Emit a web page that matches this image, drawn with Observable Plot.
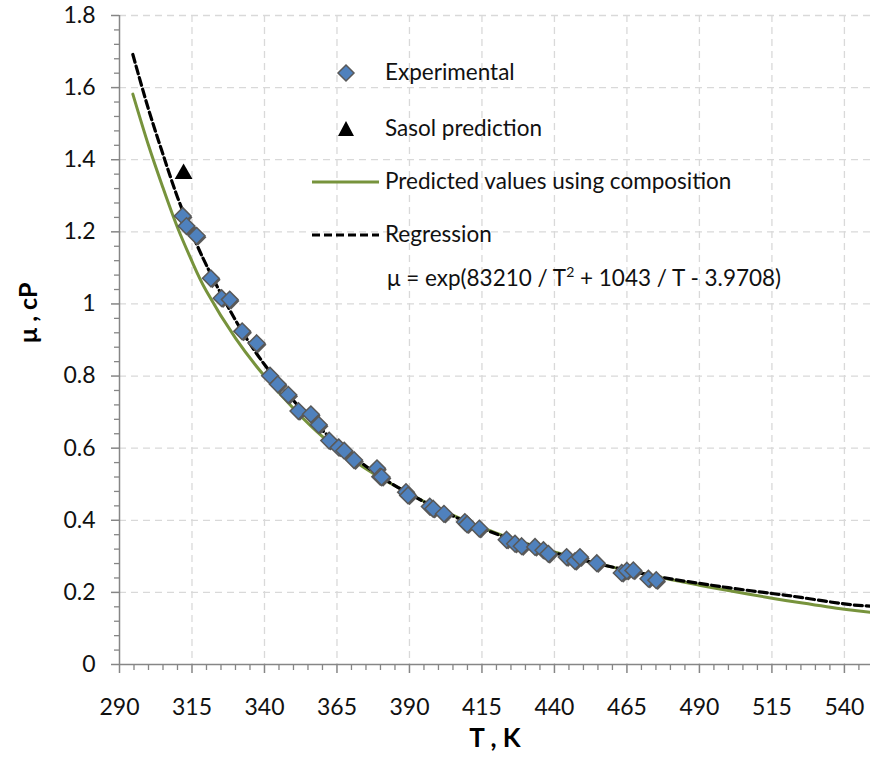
<!DOCTYPE html>
<html>
<head>
<meta charset="utf-8">
<script src="https://cdn.jsdelivr.net/npm/d3@7"></script>
<script src="https://cdn.jsdelivr.net/npm/@observablehq/plot@0.6"></script>
<style>
  html, body { margin: 0; padding: 0; background: white; }
  #wrap { position: relative; width: 870px; height: 761px; font-family: Lato, "Open Sans", sans-serif; }
  #legend { position: absolute; left: 0; top: 0; pointer-events: none; }
</style>
</head>
<body>
<div id="wrap">
  <div id="chart"></div>
  <svg id="legend" width="870" height="761" font-family="Lato, 'Open Sans', sans-serif" font-size="22.5" fill="#111">
    <polygon points="346,65 354,73 346,81 338,73" fill="#4F81BD" stroke="#595959" stroke-width="1.5"/>
    <text x="385" y="74" dominant-baseline="middle">Experimental</text>
    <polygon points="346,121 354,136 338,136" fill="black"/>
    <text x="385" y="130" dominant-baseline="middle">Sasol prediction</text>
    <line x1="312" x2="379" y1="182" y2="182" stroke="#77933C" stroke-width="3"/>
    <text x="385" y="183" dominant-baseline="middle">Predicted values using composition</text>
    <line x1="312" x2="379" y1="235" y2="235" stroke="black" stroke-width="3.2" stroke-dasharray="8,4"/>
    <text x="385" y="236" dominant-baseline="middle">Regression</text>
    <text x="387" y="280" dominant-baseline="middle">μ = exp(83210 / T<tspan dy="-7" font-size="14">2</tspan><tspan dy="7"> + 1043 / T - 3.9708)</tspan></text>
  </svg>
</div>
<script>
// Experimental data (T in K, viscosity in cP)
const expT  = [311.8, 313.1, 316.6, 321.5, 325.2, 328.0, 332.3, 337.3, 341.9, 344.6, 348.2, 351.7, 356.0, 358.7, 362.3, 365.6, 367.5, 370.9, 378.8, 379.9, 380.4, 388.8, 389.5, 397.0, 398.2, 401.9, 409.1, 409.9, 414.1, 423.5, 426.4, 428.7, 433.3, 436.2, 437.9, 444.2, 447.1, 448.8, 454.6, 463.2, 465.0, 467.2, 472.4, 475.1];
const expMu = [1.244, 1.216, 1.189, 1.071, 1.016, 1.012, 0.924, 0.891, 0.801, 0.777, 0.748, 0.703, 0.694, 0.665, 0.621, 0.602, 0.593, 0.567, 0.544, 0.521, 0.520, 0.478, 0.469, 0.438, 0.432, 0.418, 0.395, 0.389, 0.377, 0.346, 0.335, 0.328, 0.326, 0.317, 0.307, 0.298, 0.287, 0.298, 0.281, 0.254, 0.260, 0.261, 0.238, 0.234];

// Sasol prediction
const sasolT  = [312.1];
const sasolMu = [1.361];

// Predicted values using composition (green line)
const predT  = [294.6, 300, 305, 310, 315, 320, 330, 340, 350, 360, 370, 380, 390, 400, 420, 440, 460, 480, 490, 500, 515, 525, 540, 549];
const predMu = [1.582, 1.440, 1.322, 1.212, 1.118, 1.035, 0.905, 0.800, 0.710, 0.632, 0.570, 0.518, 0.474, 0.432, 0.364, 0.312, 0.270, 0.236, 0.220, 0.205, 0.184, 0.171, 0.153, 0.145];

// Regression (dashed line)
const regT  = [294.6, 300, 305, 310, 315, 320, 330, 340, 350, 360, 375, 390, 410, 430, 450, 475, 490, 500, 515, 525, 540, 549];
const regMu = [1.692, 1.540, 1.415, 1.296, 1.196, 1.107, 0.955, 0.832, 0.732, 0.649, 0.550, 0.473, 0.394, 0.334, 0.289, 0.245, 0.225, 0.213, 0.197, 0.186, 0.168, 0.162];

// Tick values
const xMajor = [290, 315, 340, 365, 390, 415, 440, 465, 490, 515, 540];
const xMinor = d3.range(290, 550, 5).filter(v => (v - 290) % 25 !== 0);
const yMajor = [0, 0.2, 0.4, 0.6, 0.8, 1, 1.2, 1.4, 1.6, 1.8];
const yMinor = d3.range(0, 45).map(i => +(i * 0.04).toFixed(2)).filter(v => Math.abs(v / 0.2 - Math.round(v / 0.2)) > 1e-6);

const expData   = expT.map((t, i) => ({T: t, mu: expMu[i]}));
const sasolData = sasolT.map((t, i) => ({T: t, mu: sasolMu[i]}));
const predData  = predT.map((t, i) => ({T: t, mu: predMu[i]}));
const regData   = regT.map((t, i) => ({T: t, mu: regMu[i]}));

const axisGray = "#868686";
const gridStyle = {stroke: "#d9d9d9", strokeOpacity: 1, strokeWidth: 1.3, strokeDasharray: "7,5"};

const chart = Plot.plot({
  width: 870,
  height: 761,
  marginLeft: 119,
  marginRight: 0,
  marginTop: 15,
  marginBottom: 97,
  x: {domain: [290, 549]},
  y: {domain: [0, 1.8]},
  style: {fontFamily: "Lato, 'Open Sans', sans-serif", background: "white", color: "black"},
  marks: [
    Plot.gridX(xMajor.slice(1), gridStyle),
    Plot.gridY(yMajor.slice(1), gridStyle),
    Plot.line(predData, {x: "T", y: "mu", stroke: "#77933C", strokeWidth: 3, curve: "natural"}),
    Plot.line(regData, {x: "T", y: "mu", stroke: "black", strokeWidth: 3.2, strokeDasharray: "8,4", curve: "natural"}),
    Plot.dot(expData, {x: "T", y: "mu", symbol: "diamond2", r: 7.5, fill: "#5a5a5a", dx: 1.5, dy: 1.5}),
    Plot.dot(expData, {x: "T", y: "mu", symbol: "diamond2", r: 7.5, fill: "#4F81BD", stroke: "#595959", strokeWidth: 1.5}),
    Plot.dot(sasolData, {x: "T", y: "mu", symbol: "triangle2", r: 8.5, fill: "black"}),
    Plot.ruleY([0], {stroke: axisGray, strokeWidth: 1.5}),
    Plot.ruleX([290], {stroke: axisGray, strokeWidth: 1.5}),
    Plot.axisX({ticks: xMajor, tickSize: 9, tickPadding: 25, fontSize: 23, stroke: axisGray, strokeWidth: 1.5, fill: "#111", tickFormat: d => String(d), label: null}),
    Plot.axisX({ticks: xMinor, tickSize: 6, stroke: axisGray, strokeWidth: 1.3, tickFormat: () => "", label: null}),
    Plot.axisY({ticks: yMajor, tickSize: 8, tickPadding: 16, fontSize: 23, stroke: axisGray, strokeWidth: 1.5, fill: "#111", tickFormat: d => String(+d.toFixed(1)), label: null}),
    Plot.axisY({ticks: yMinor, tickSize: 5, stroke: axisGray, strokeWidth: 1.3, tickFormat: () => "", label: null}),
    Plot.text(["T , K"], {frameAnchor: "bottom", dy: 82, fontSize: 26, fontWeight: "bold", fill: "black"}),
    Plot.text(["μ , cP"], {frameAnchor: "left", dx: -91, dy: 3, rotate: -90, fontSize: 25, fontWeight: "bold", fill: "black"})
  ]
});
document.getElementById("chart").appendChild(chart);
</script>
</body>
</html>
